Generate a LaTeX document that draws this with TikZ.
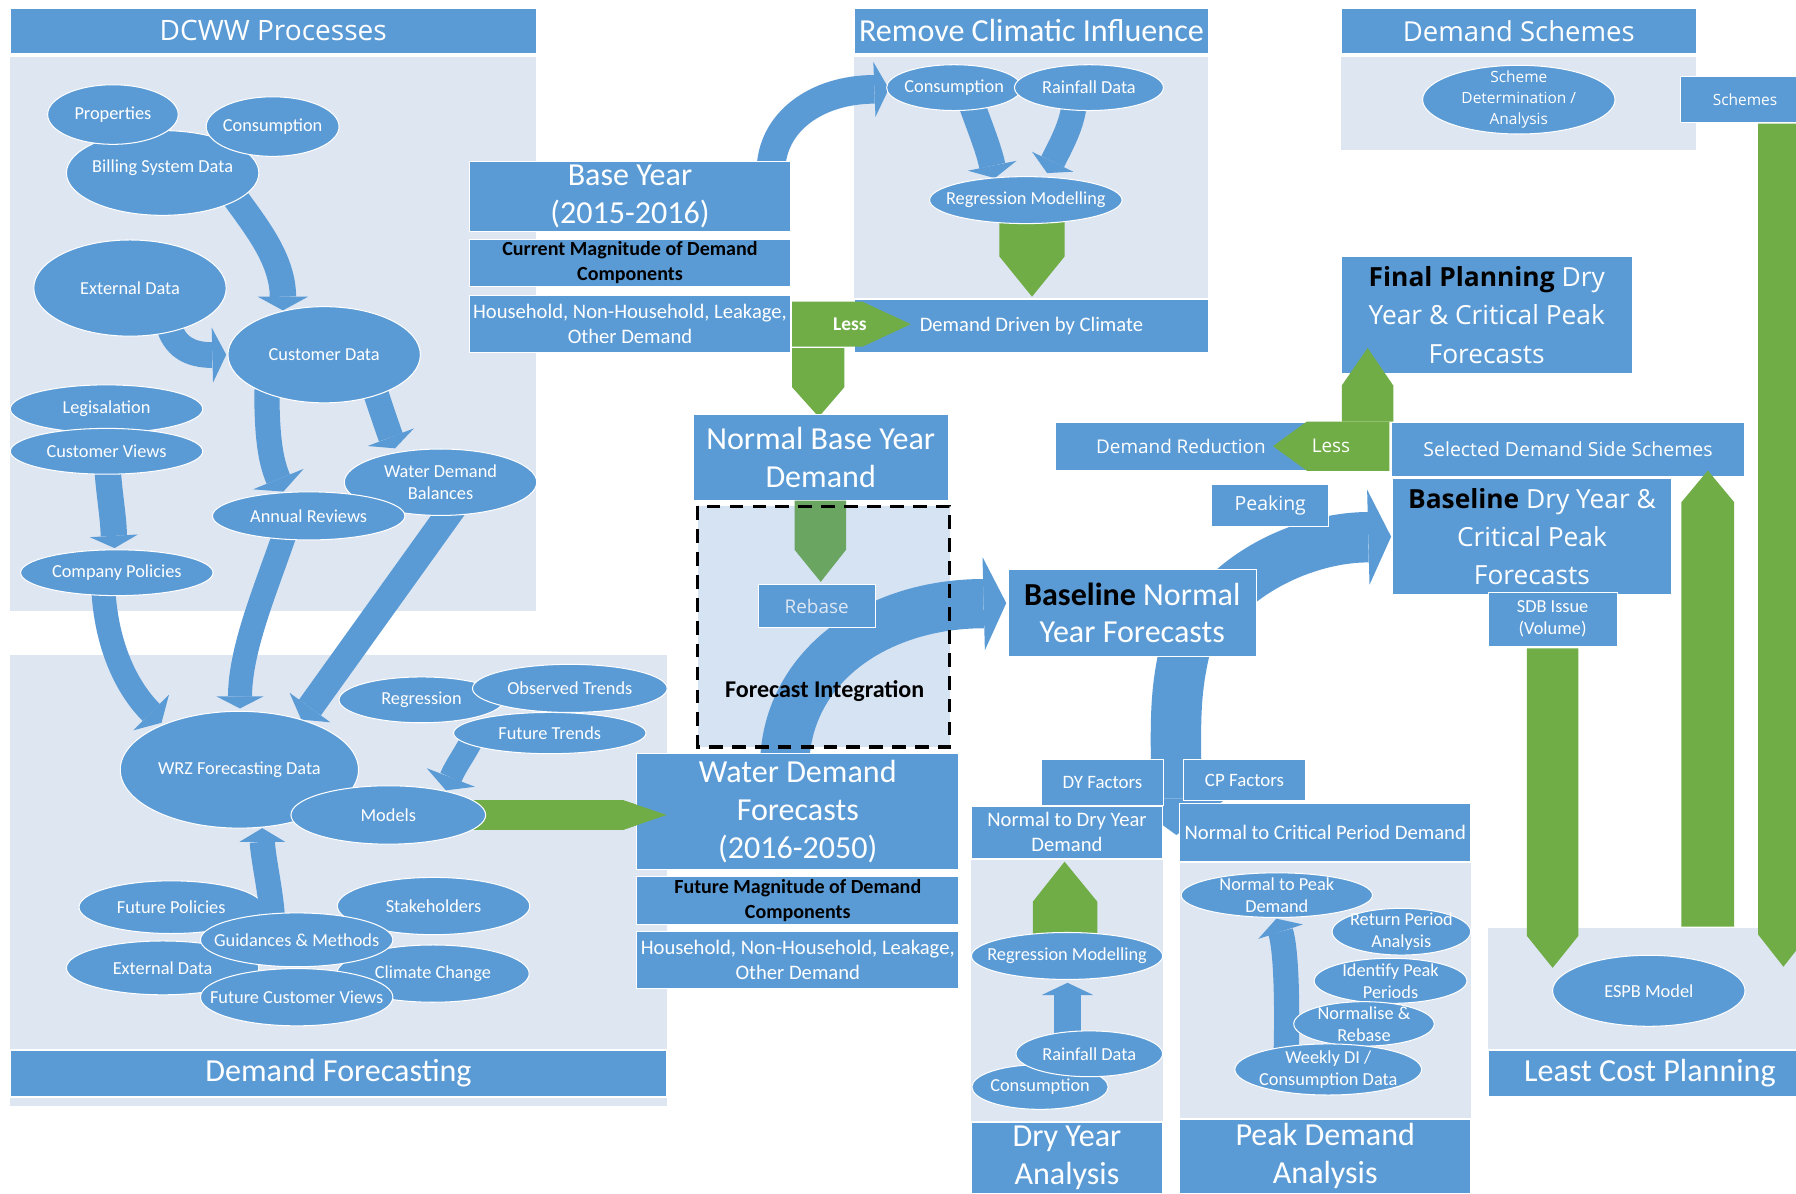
\documentclass[tikz,border=0pt]{standalone}
\usepackage{fontspec}
\setmainfont{Carlito}
\newfontfamily\osans{Open Sans}
\usetikzlibrary{shapes.geometric,calc}

\definecolor{dblue}{HTML}{5B9BD5}
\definecolor{dpanel}{HTML}{DEE6F2}
\definecolor{dfi}{HTML}{D5E3F3}
\definecolor{dgreen}{HTML}{70AD47}
\definecolor{dgreenb}{HTML}{6AA662}
\definecolor{dpale}{HTML}{DDE7F3}

\tikzset{
  boxshape/.style={fill=dblue, draw=white, line width=0.7pt, inner sep=0pt, outer sep=0pt, anchor=north west},
  panelshape/.style={fill=dpanel, draw=none, inner sep=0pt, outer sep=0pt, anchor=north west},
  ovalshape/.style={ellipse, fill=dblue, draw=white, line width=0.9pt, inner sep=0pt, outer sep=0pt},
  lbl/.style={text=white, align=center, inner sep=0pt},
  hdr/.style={lbl, font=\fontsize{28}{33}\selectfont},
  mtxt/.style={lbl, font=\fontsize{18}{21.5}\selectfont},
  stxt/.style={lbl, font=\fontsize{16}{19}\selectfont},
  btxt/.style={lbl, text=black, font=\bfseries\fontsize{17.5}{22}\selectfont},
  ohdr/.style={lbl, font=\osans\fontsize{23}{33.5}\selectfont},
  omid/.style={lbl, font=\osans\fontsize{16.5}{20}\selectfont},
  osm/.style={lbl, font=\osans\fontsize{13.5}{18.5}\selectfont},
  ltxt/.style={lbl, font=\bfseries\fontsize{17}{20}\selectfont},
  shaft/.style={draw=dblue, line cap=butt},
  gshape/.style={fill=dgreen, draw=none},
  fiborder/.style={draw=black, line width=3pt, dash pattern=on 12pt off 8pt},
}

% rectangular box given by its corners, with a centred label
\newcommand\boxnode[8][]{%
  \pgfmathsetmacro\rbW{#5-#3}%
  \pgfmathsetmacro\rbH{#6-#4}%
  \node[boxshape,#1,minimum width=\rbW pt,minimum height=\rbH pt] (#2) at (#3,#4) {};
  \node[#7] (#2-t) at (#2.center) {#8};%
}
% ellipse given by centre and radii, with a centred label
\newcommand\ellnode[7][stxt]{%
  \node[ovalshape, minimum width={2*#5pt}, minimum height={2*#6pt}] (#2) at (#3,#4) {};
  \node[#1] (#2-t) at (#2.center) {#7};%
}
% block arrow: shaft width, head half width, start, control 1, control 2, head base, tip
\newcommand\blockarrow[7]{%
  \draw[shaft, line width=#1pt] (#3) .. controls (#4) and (#5) .. (#6);
  \fill[dblue] ($(#6)!#2pt!90:(#7)$) -- (#7) -- ($(#6)!#2pt!-90:(#7)$) -- cycle;%
}

\begin{document}
\begin{tikzpicture}[x=1pt,y=-1pt]
\useasboundingbox (0,0) rectangle (1568,1042);
\fill[white] (0,0) rectangle (1568,1042);

% ---------------- DCWW Processes ----------------
\boxnode{dcwwH}{9}{7}{468}{47}{lbl, font=\osans\fontsize{24.5}{28}\selectfont}{DCWW Processes}
\boxnode[panelshape]{dcwwP}{9}{50}{468}{533}{lbl}{}

% ---------------- Demand Forecasting panel ----------------
\boxnode[panelshape]{dfP}{9}{572}{582}{916}{lbl}{}
\boxnode{dfH}{9}{917}{582}{957}{hdr}{Demand Forecasting}
\boxnode[panelshape]{dfS}{9}{959}{582}{966}{lbl}{}

% arrows between the process data
\blockarrow{23}{22}{205,172}{222,196}{247,226}{247,259}{247,271}
\blockarrow{22.4}{24}{147,283}{152,302}{165,310}{185.4,310}{197.5,309.7}
\blockarrow{22}{23.8}{233,340}{233,375}{235,400}{243,418.3}{247.4,429.2}
\blockarrow{22}{21.6}{327,340}{331,352}{337,370}{341.2,381.7}{344.9,391.4}
\blockarrow{23}{21}{93.6,405}{95,430}{99,450}{99.4,467.8}{100,478.5}
\blockarrow{21}{22}{90,510}{92,565}{112,602}{132,622}{141,631}
\blockarrow{21}{20.5}{250,462}{232,515}{210,565}{209.5,608}{209.5,618.5}
\blockarrow{23.5}{22}{398,440}{398,440}{270.6,617.7}{270.6,617.7}{263,628.2}

\ellnode[stxt,yshift=5pt]{bill}{142}{151}{84}{37}{Billing System Data}
\ellnode{prop}{98.6}{100}{57}{26}{Properties}
\ellnode{consA}{238}{110.5}{58}{26}{Consumption}
\ellnode{extA}{113.5}{251.5}{84}{42}{External Data}
\ellnode{cust}{283}{309.7}{84}{42}{Customer Data}
\ellnode{legis}{93}{357}{84}{21}{Legisalation}
\ellnode{cviews}{93}{394}{84}{20}{Customer Views}
\ellnode{wdb}{384.6}{421}{84}{29}{Water Demand\\Balances}
\ellnode{annual}{269.5}{450.4}{84}{21}{Annual Reviews}
\ellnode{cpol}{102}{500}{84}{20}{Company Policies}

% forecasting data
\blockarrow{20}{22.5}{414,642}{405,660}{398,668}{393.6,678.8}{389.3,690}
\fill[gshape] (400,698.5) -- (543.7,698.5) -- (582,711.5) -- (543.7,724.6) -- (400,724.6) -- cycle;
\ellnode{wrz}{209}{672}{104}{51}{WRZ Forecasting Data}
\ellnode{regr}{368}{611}{72}{20}{Regression}
\ellnode{futtr}{480}{640}{84}{18}{Future Trends}
\ellnode{obstr}{497.5}{601}{85}{21}{Observed Trends}
\ellnode{models}{339}{711.5}{85}{25.5}{Models}
\ellnode{futpol}{149.5}{792}{80.5}{23}{Future Policies}
\ellnode{stake}{378.5}{791}{84}{25}{Stakeholders}
\ellnode{extB}{142}{845}{84}{23.5}{External Data}
\ellnode{climate}{378}{850}{84}{25}{Climate Change}
\blockarrow{22}{20}{238,805}{237,780}{230,752}{229,735}{229,723}
\ellnode{guide}{259}{820.5}{84}{23.5}{Guidances \& Methods}
\ellnode{fcv}{259}{870.6}{84}{25}{Future Customer Views}

% ---------------- Remove Climatic Influence ----------------
\boxnode{rciH}{746}{7}{1055}{47}{hdr}{Remove Climatic Influence}
\boxnode[panelshape]{rciP}{746}{50}{1055}{260}{lbl}{}
\boxnode{ddc}{746}{261}{1055}{308}{mtxt}{Demand Driven by Climate}

% ---------------- Base Year ----------------
\blockarrow{25}{24}{673,150}{673,106}{713.5,78}{763.4,78}{776,77.5}
\boxnode{byear}{410}{141}{690}{202}{hdr}{Base Year\\(2015-2016)}
\boxnode{curmag}{410}{209}{690}{250}{btxt}{Current Magnitude of Demand\\Components}
\boxnode{hhA}{410}{258}{690}{308}{mtxt}{Household, Non-Household, Leakage,\\Other Demand}

\blockarrow{23}{21.7}{848,90}{855,110}{863.3,130}{866.3,144.7}{868.5,155.5}
\blockarrow{22}{20}{938,90}{936,110}{925.6,127.7}{919,141.2}{914.2,151.1}
\fill[gshape] (872.6,190) -- (929.4,190) -- (929.4,224) -- (901,259) -- (872.6,224) -- cycle;
\ellnode{consB}{833}{76.5}{59}{20}{Consumption}
\ellnode{rainB}{950.7}{76.5}{65}{20}{Rainfall Data}
\ellnode{regmB}{895.6}{174.7}{84}{20.5}{Regression Modelling}

\fill[gshape] (691.5,263.4) -- (752.9,263.4) -- (795.2,283) -- (752.9,302.7) -- (691.5,302.7) -- cycle;
\node[ltxt] (lessA) at (742,283) {Less};
\fill[gshape] (691.5,304) -- (737.2,304) -- (737.2,338) -- (714.8,364) -- (691.5,338) -- cycle;

\boxnode{nbyd}{605}{362}{828}{437}{hdr}{Normal Base Year\\Demand}

% ---------------- Forecast Integration ----------------
\node[fill=dfi, anchor=north west, inner sep=0pt, outer sep=0pt, minimum width=220pt, minimum height=210pt] (fi) at (609,442) {};
\fill[dgreenb] (693.7,437) -- (738.6,437) -- (738.6,480) -- (716.5,508) -- (693.7,480) -- cycle;
\blockarrow{43}{40.7}{685,670}{685,584}{763,527}{858.8,527}{878.5,526.5}
\boxnode{rebase}{662}{510}{764}{548}{omid, text=dpale}{Rebase}
\node[lbl, text=black, font=\bfseries\fontsize{21}{24}\selectfont] (fi-t) at (720,603) {Forecast Integration};
\draw[fiborder] (fi.north west) rectangle (fi.south east);

\boxnode{wdf}{556}{658}{837}{759}{hdr}{Water Demand\\Forecasts\\(2016-2050)}
\boxnode{futmag}{556}{765}{837}{807}{btxt}{Future Magnitude of Demand\\Components}
\boxnode{hhB}{556}{813}{837}{863}{mtxt}{Household, Non-Household, Leakage,\\Other Demand}
% tip of the models arrow lies over the forecasts box
\fill[gshape] (540,698.5) -- (543.7,698.5) -- (582,711.5) -- (543.7,724.6) -- (540,724.6) -- cycle;

% ---------------- Baseline and planning forecasts ----------------
\blockarrow{44}{41.5}{1070,520}{1100,490}{1150,469}{1194.6,469}{1214.5,468.5}
\blockarrow{44}{44}{1035,565}{1024,610}{1027,640}{1027,697}{1027,729}
\boxnode{bnorm}{880}{497}{1097}{573}{hdr}{{\color{black}\bfseries Baseline} Normal\\Year Forecasts}
\boxnode{peaking}{1058}{423}{1160}{460}{lbl, font=\osans\fontsize{17}{20}\selectfont}{Peaking}
\boxnode{dred}{921}{369}{1141}{411}{omid}{Demand Reduction}
\boxnode{fplan}{1171}{224}{1425}{326}{ohdr}{{\color{black}\bfseries Final Planning} Dry\\Year \& Critical Peak\\Forecasts}
\fill[gshape] (1213,368) -- (1141,368) -- (1111.4,389.5) -- (1141,411) -- (1213,411) -- cycle;
\fill[gshape] (1171.4,368) -- (1171.4,336.6) -- (1194,303.8) -- (1216.4,336.6) -- (1216.4,368) -- cycle;
\node[omid] (lessB) at (1162,389.5) {Less};
\boxnode{sdss}{1215}{369}{1523}{416}{lbl, font=\osans\fontsize{17}{20}\selectfont}{Selected Demand Side Schemes}
\boxnode{bdry}{1216}{418}{1459}{519}{ohdr}{{\color{black}\bfseries Baseline} Dry Year \&\\Critical Peak\\Forecasts}
\boxnode{sdb}{1299}{517}{1412}{564}{stxt}{SDB Issue\\(Volume)}

% ---------------- Dry year and peak demand analysis ----------------
\boxnode{dyf}{909}{663}{1016}{703}{lbl, font=\fontsize{16.5}{19}\selectfont}{DY Factors}
\boxnode{cpf}{1033}{663}{1140}{699}{lbl, font=\fontsize{16.5}{19}\selectfont}{CP Factors}
\boxnode{ntodry}{848}{704}{1015}{749}{mtxt}{Normal to Dry Year\\Demand}
\boxnode[panelshape]{dryP}{848}{751}{1015}{979}{lbl}{}
\boxnode{dryF}{848}{980}{1015}{1042}{hdr}{Dry Year\\Analysis}
\boxnode{ntocrit}{1030}{701}{1284}{752}{mtxt}{Normal to Critical Period Demand}
\boxnode[panelshape]{peakP}{1030}{753}{1284}{976}{lbl}{}
\boxnode{peakF}{1030}{977}{1284}{1042}{hdr}{Peak Demand\\Analysis}

\fill[gshape] (901.7,820) -- (901.7,787.2) -- (929.4,752.3) -- (958,787.2) -- (958,820) -- cycle;
\blockarrow{23}{22.5}{932,905}{932,890}{932,880}{932,868.7}{932,858}
\ellnode{regmC}{931.6}{834.6}{83.5}{20.5}{Regression Modelling}
\ellnode{consC}{908}{949}{59.5}{19.5}{Consumption}
\ellnode{rainC}{951}{920}{64}{20}{Rainfall Data}

\blockarrow{22}{20.5}{1123,915}{1124,870}{1122.6,828}{1118,813.4}{1114.3,802}
\ellnode{ntopeak}{1114.7}{781.5}{83.5}{19.5}{Normal to Peak\\Demand}
\ellnode{retp}{1223.5}{813.4}{60.5}{20.4}{Return Period\\Analysis}
\ellnode{idpk}{1214}{856.3}{66.7}{19.7}{Identify Peak\\Periods}
\ellnode{normr}{1190.8}{893.9}{61.3}{19.4}{Normalise \&\\Rebase}
\ellnode{weekly}{1159.6}{933.7}{81.5}{22.3}{Weekly DI /\\Consumption Data}

% ---------------- Least Cost Planning ----------------
\boxnode[panelshape]{lcpP}{1299}{810}{1582}{916}{lbl}{}
\boxnode{lcpF}{1299}{917}{1582}{957}{hdr}{Least Cost Planning}
\ellnode{espb}{1439.5}{865}{84}{31}{ESPB Model}
\fill[gshape] (1333,566) -- (1378,566) -- (1378,817) -- (1355.5,845) -- (1333,817) -- cycle;
\fill[gshape] (1468,809) -- (1468,438.4) -- (1491,410.8) -- (1514,438.4) -- (1514,809) -- cycle;
\fill[gshape] (1535,108) -- (1579,108) -- (1579,816) -- (1557,844) -- (1535,816) -- cycle;

% ---------------- Demand Schemes ----------------
\boxnode{dsH}{1171}{7}{1481}{47}{lbl, font=\osans\fontsize{24}{28}\selectfont}{Demand Schemes}
\boxnode[panelshape]{dsP}{1171}{50}{1481}{131}{lbl}{}
\ellnode[osm]{schdet}{1326}{87}{84}{30}{Scheme\\Determination /\\Analysis}
\boxnode{schemes}{1467}{67}{1580}{107}{osm}{Schemes}

\end{tikzpicture}
\end{document}
